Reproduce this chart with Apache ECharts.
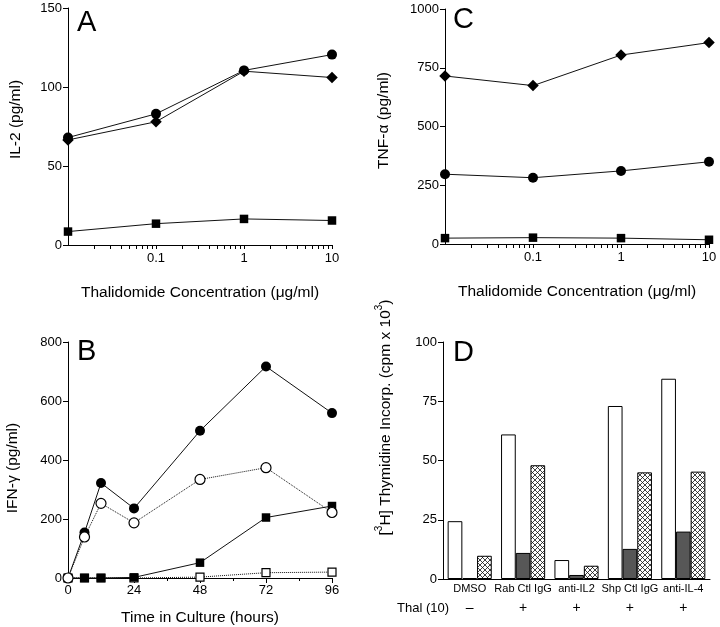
<!DOCTYPE html>
<html><head><meta charset="utf-8">
<script src="https://cdn.jsdelivr.net/npm/echarts@6/dist/echarts.min.js"></script>
<style>html,body{margin:0;padding:0;background:#fff}#c{width:720px;height:627px}</style>
</head><body><div id="c"></div>
<script>
// ---- data ----
const concentrations = [0.01, 0.1, 1, 10];
const aCircles = [68, 83, 110.5, 120.5];
const aDiamonds = [66.5, 78, 110, 106];
const aSquares = [8.5, 13.5, 16.5, 15.5];
const cDiamonds = [715, 674, 804, 857];
const cCircles = [297, 282, 311, 350];
const cSquares = [25, 27, 25, 18];
const hours = [0, 6, 12, 24, 48, 72, 96];
const bFilledCircles = [0, 154, 322, 236, 499, 717, 559];
const bOpenCircles = [0, 139, 253, 187, 334, 374, 222];
const bFilledSquares = [0, 0, 0, 2, 52, 205, 244];
const bOpenSquares = [0, 0, 0, 0, 3, 18, 20];
const dCategories = ['DMSO', 'Rab Ctl IgG', 'anti-IL2', 'Shp Ctl IgG', 'anti-IL-4'];
const dThal = ['–', '+', '+', '+', '+'];
const dWhite = [24.4, 61, 8, 73, 84.5];
const dGrey = [0.4, 11, 1.7, 12.7, 20];
const dHatched = [9.8, 48, 5.6, 45, 45.3];
const logLabelValues = [0.1, 1, 10];
const logTickValues = [0.02, 0.03, 0.04, 0.05, 0.06, 0.07, 0.08, 0.09, 0.1,
                       0.2, 0.3, 0.4, 0.5, 0.6, 0.7, 0.8, 0.9, 1,
                       2, 3, 4, 5, 6, 7, 8, 9, 10];

const FONT = "'Liberation Sans', Arial, Helvetica, sans-serif";
const BLACK = '#000';

// crosshatch pattern
const pc = document.createElement('canvas');
pc.width = 5; pc.height = 5;
const pctx = pc.getContext('2d');
pctx.fillStyle = '#fff'; pctx.fillRect(0, 0, 5, 5);
pctx.strokeStyle = '#111'; pctx.lineWidth = 0.8;
pctx.beginPath();
pctx.moveTo(-1, -1); pctx.lineTo(6, 6);
pctx.moveTo(6, -1); pctx.lineTo(-1, 6);
pctx.stroke();

const nameStyle = {fontFamily: FONT, fontSize: 15.5, color: BLACK};
const tickLabel = {fontFamily: FONT, fontSize: 13, color: BLACK};

function logAxis(gridIndex) {
  return {type: 'log', gridIndex, position: 'bottom', min: 0.01, max: 10, logBase: 10,
    axisLine: {lineStyle: {color: BLACK, width: 1}},
    axisTick: {show: true, length: 4, customValues: logTickValues, lineStyle: {color: BLACK}},
    axisLabel: Object.assign({customValues: logLabelValues, margin: 7, formatter: v => String(v)}, tickLabel),
    splitLine: {show: false}, minorTick: {show: false},
    name: 'Thalidomide Concentration (μg/ml)', nameLocation: 'middle', nameGap: 40,
    nameTextStyle: nameStyle};
}

function yAxis(gridIndex, max, interval, name, nameGap, pad, extra) {
  return Object.assign({
    type: 'value', gridIndex, min: 0, max, interval,
    axisLine: {show: true, lineStyle: {color: BLACK, width: 1}},
    axisTick: {show: true, length: 5, lineStyle: {color: BLACK}},
    axisLabel: Object.assign({margin: 6, formatter: v => String(v)}, tickLabel),
    splitLine: {show: false},
    name, nameLocation: 'middle', nameGap,
    nameTextStyle: Object.assign({padding: pad}, nameStyle)
  }, extra || {});
}

function lineSeries(xi, yi, xs, ys, symbol, size, open, dotted, z) {
  return {
    type: 'line', xAxisIndex: xi, yAxisIndex: yi, clip: false, z: z || 2,
    data: xs.map((x, i) => [x, ys[i]]),
    symbol, symbolSize: size, showSymbol: true,
    lineStyle: {color: '#111', width: 1, type: dotted ? 'dotted' : 'solid'},
    itemStyle: open ? {color: '#fff', borderColor: BLACK, borderWidth: 1.2}
                    : {color: BLACK, borderColor: BLACK, borderWidth: 0},
    emphasis: {disabled: true}, animation: false
  };
}

const option = {
  animation: false,
  backgroundColor: '#fff',
  textStyle: {fontFamily: FONT},
  grid: [
    {left: 68, top: 8, width: 264, height: 237},
    {left: 445, top: 9, width: 264, height: 235},
    {left: 68, top: 342, width: 264, height: 236},
    {left: 443, top: 342, width: 267, height: 237}
  ],
  xAxis: [
    logAxis(0),
    logAxis(1),
    {type: 'value', gridIndex: 2, min: 0, max: 96, interval: 24,
     axisLine: {lineStyle: {color: BLACK, width: 1}},
     axisTick: {length: 5, lineStyle: {color: BLACK}},
     minorTick: {show: true, splitNumber: 2, length: 3, lineStyle: {color: BLACK}},
     axisLabel: Object.assign({margin: 6}, tickLabel),
     splitLine: {show: false},
     name: 'Time in Culture (hours)', nameLocation: 'middle', nameGap: 32, nameTextStyle: nameStyle},
    {type: 'category', gridIndex: 3, position: 'bottom', data: dCategories,
     axisLine: {lineStyle: {color: BLACK, width: 1}},
     axisTick: {show: false},
     axisLabel: {interval: 0, margin: 4, fontSize: 11, fontFamily: FONT, color: BLACK}},
    {type: 'category', gridIndex: 3, position: 'bottom', offset: 20, data: dThal,
     axisLine: {show: false}, axisTick: {show: false},
     axisLabel: {interval: 0, margin: 2, fontSize: 14, fontFamily: FONT, color: BLACK}}
  ],
  yAxis: [
    yAxis(0, 150, 50, 'IL-2 (pg/ml)', 44, [0, 0, 0, 14]),
    yAxis(1, 1000, 250, 'TNF-α (pg/ml)', 53, [0, 0, 0, 12]),
    yAxis(2, 800, 200, 'IFN-γ (pg/ml)', 47, [0, 16, 0, 0]),
    yAxis(3, 100, 25, '{n|[}{s|3}{n|H] Thymidine Incorp. (cpm x 10}{s|3}{n|)}', 49, null, {
      nameTextStyle: {padding: [0, 0, 0, 86], fontFamily: FONT, color: BLACK,
        rich: {n: {fontSize: 15.5, fontFamily: FONT, color: BLACK, lineHeight: 20, verticalAlign: 'bottom'},
               s: {fontSize: 10, fontFamily: FONT, color: BLACK, lineHeight: 20, verticalAlign: 'top'}}}
    })
  ],
  series: [
    lineSeries(0, 0, concentrations, aDiamonds, 'diamond', 11.5, false, false),
    lineSeries(0, 0, concentrations, aCircles, 'circle', 10, false, false),
    lineSeries(0, 0, concentrations, aSquares, 'rect', 8.5, false, false),
    lineSeries(1, 1, concentrations, cDiamonds, 'diamond', 11.5, false, false),
    lineSeries(1, 1, concentrations, cCircles, 'circle', 10, false, false),
    lineSeries(1, 1, concentrations, cSquares, 'rect', 8.5, false, false),
    lineSeries(2, 2, hours, bOpenSquares, 'rect', 8, true, true, 2),
    lineSeries(2, 2, hours, bFilledSquares, 'rect', 8.5, false, false, 3),
    lineSeries(2, 2, hours, bFilledCircles, 'circle', 10, false, false, 4),
    lineSeries(2, 2, hours, bOpenCircles, 'circle', 10, true, true, 5),
    {type: 'bar', xAxisIndex: 3, yAxisIndex: 3, data: dWhite, barWidth: 14.7, barGap: '0%',
     itemStyle: {color: '#fff', borderColor: BLACK, borderWidth: 1}, emphasis: {disabled: true}},
    {type: 'bar', xAxisIndex: 3, yAxisIndex: 3, data: dGrey, barWidth: 14.7, barGap: '0%',
     itemStyle: {color: '#575757', borderColor: BLACK, borderWidth: 1}, emphasis: {disabled: true}},
    {type: 'bar', xAxisIndex: 3, yAxisIndex: 3, data: dHatched, barWidth: 14.7, barGap: '0%',
     itemStyle: {color: {image: pc, repeat: 'repeat'}, borderColor: BLACK, borderWidth: 1}, emphasis: {disabled: true}}
  ],
  graphic: [
    {type: 'text', left: 77, top: 8, style: {text: 'A', fontSize: 29, fontFamily: FONT, fill: BLACK}},
    {type: 'text', left: 453, top: 5, style: {text: 'C', fontSize: 29, fontFamily: FONT, fill: BLACK}},
    {type: 'text', left: 77, top: 337, style: {text: 'B', fontSize: 29, fontFamily: FONT, fill: BLACK}},
    {type: 'text', left: 453, top: 338, style: {text: 'D', fontSize: 29, fontFamily: FONT, fill: BLACK}},
    {type: 'text', left: 397, top: 602, style: {text: 'Thal (10)', fontSize: 13, fontFamily: FONT, fill: BLACK}}
  ]
};

const chart = echarts.init(document.getElementById('c'), null, {renderer: 'canvas'});
chart.setOption(option);
</script>
</body></html>
